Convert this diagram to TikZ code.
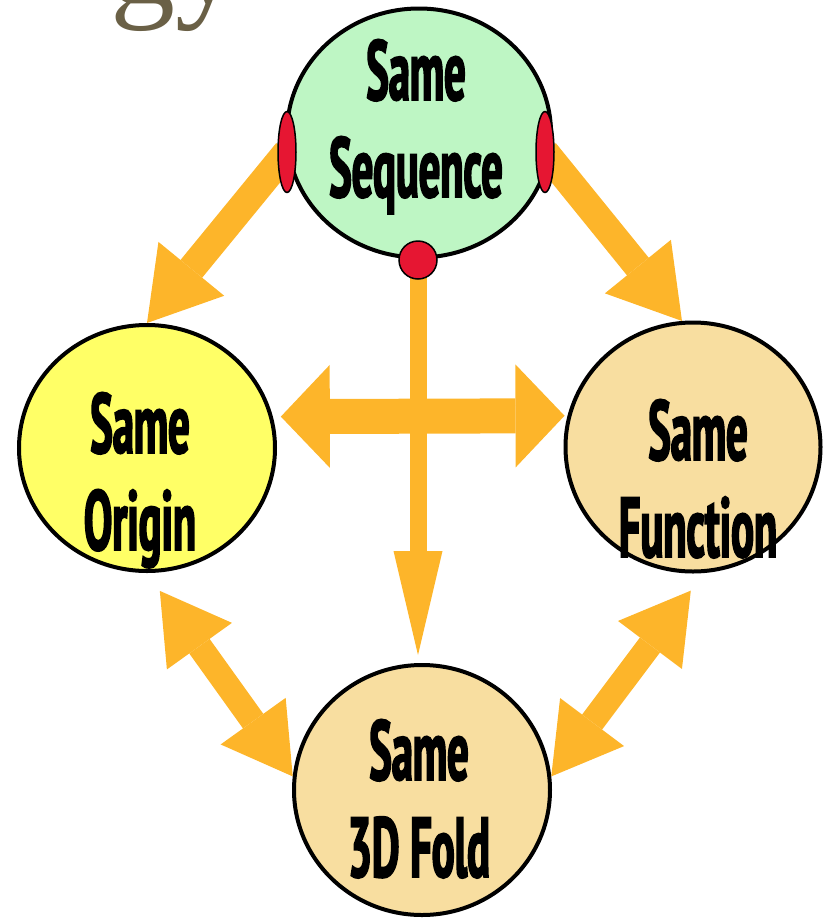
\documentclass[tikz,border=0pt]{standalone}
\usepackage{fontspec}
\usepackage{tikz}
\usetikzlibrary{arrows.meta,shapes.geometric,backgrounds}
\setmainfont{Liberation Serif}
\newfontfamily\bubblefont[FakeStretch=0.50,FakeBold=2]{PT Sans}
\definecolor{seqgreen}{RGB}{190,246,196}
\definecolor{origyellow}{RGB}{255,255,102}
\definecolor{foldtan}{RGB}{248,222,160}
\definecolor{knobred}{RGB}{230,22,50}
\definecolor{flowgold}{RGB}{253,181,42}
\definecolor{titlebrown}{RGB}{106,96,70}

\begin{document}
\begin{tikzpicture}[
  x=1pt,y=-1pt,
  bubble/.style={ellipse,draw=black,line width=4pt,inner sep=0pt},
  tag/.style={font=\bubblefont\bfseries\fontsize{85}{97}\selectfont,
    align=center,inner sep=0pt,anchor=base},
  knob/.style={ellipse,draw=black,line width=1.5pt,fill=knobred,inner sep=0pt},
  fat/.style={line width=28pt,flowgold,
    -{Triangle[length=70pt,width=85pt,line width=0pt]}},
  stem/.style={line width=17pt,flowgold,
    -{Triangle[length=104pt,width=49pt,line width=0pt]}},
  wide/.style={line width=35pt,flowgold,
    {Triangle[length=49pt,width=103pt,line width=0pt]}-{Triangle[length=49pt,width=103pt,line width=0pt]}},
  twin/.style={line width=25pt,flowgold,
    {Triangle[length=68pt,width=80pt,line width=0pt]}-{Triangle[length=68pt,width=80pt,line width=0pt]}}
]
  \clip (0,0) rectangle (826,919);

  \node[font=\fontsize{130}{130}\selectfont,text=titlebrown,anchor=base west,
    inner sep=0pt] (title) at (110,3) {gy};

  \node[bubble,fill=seqgreen,minimum width=264pt,minimum height=249pt] (seq) at (419,133) {};
  \node[bubble,fill=origyellow,minimum width=256pt,minimum height=246pt] (origin) at (147,448) {};
  \node[bubble,fill=foldtan,minimum width=255pt,minimum height=249pt] (function) at (693,447) {};
  \node[bubble,fill=foldtan,minimum width=256pt,minimum height=250pt] (fold) at (422,790) {};

  \node[tag] (seqtext) at (416,197) {Same\\Sequence};
  \node[tag] (origintext) at (140,550) {Same\\Origin};
  \node[tag] (functiontext) at (698,557) {Same\\Function};
  \node[tag] (foldtext) at (419,877) {Same\\3D Fold};

  \node[knob,minimum width=18pt,minimum height=81pt] (knobL) at (287,152) {};
  \node[knob,minimum width=18pt,minimum height=81pt] (knobR) at (545,152) {};
  \node[knob,circle,minimum size=38pt] (knobB) at (418,260) {};

  \begin{scope}[on background layer]
    \draw[fat] (knobL.center) -- (origin.north);
    \draw[fat] (knobR.center) -- (function.95);
    \draw[stem,shorten >=8pt] (knobB.center) -- (knobB |- fold.north);
    \draw[wide,shorten <=8pt,shorten >=3pt] (origin.14) -- (function.166);
    \draw[twin,shorten <=22pt] (origin.south) -- (fold.174);
    \draw[twin,shorten <=22pt] (function.-85) -- (fold.6);
  \end{scope}
\end{tikzpicture}
\end{document}
